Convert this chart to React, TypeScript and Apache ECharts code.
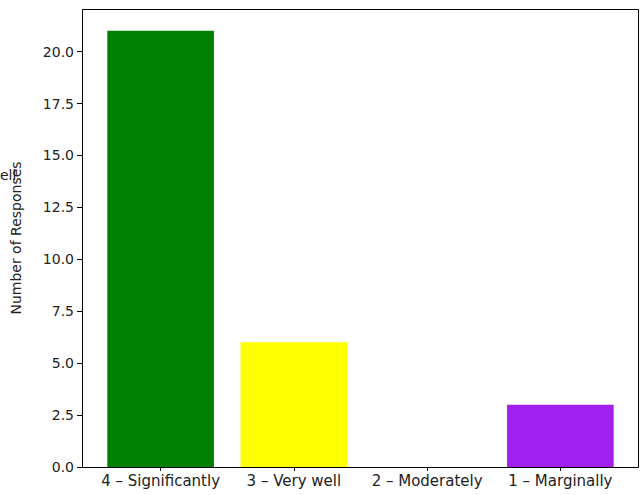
import React, { useEffect, useRef } from "react";
import * as echarts from "echarts";

const categories = ["4 – Significantly", "3 – Very well", "2 – Moderately", "1 – Marginally"];
const values = [21, 6, 0, 3];
const colors = ["#008000", "#ffff00", "#7f7f7f", "#a020f0"];
const yTicks = [0, 2.5, 5, 7.5, 10, 12.5, 15, 17.5, 20];

export default function App() {
  const ref = useRef<HTMLDivElement>(null);
  useEffect(() => {
    const chart = echarts.init(ref.current!, null, { renderer: "svg" });
    const font = "DejaVu Sans";
    chart.setOption({
      animation: false,
      backgroundColor: "#ffffff",
      grid: { left: 94, right: 14, top: 9, bottom: 28, containLabel: false },
      xAxis: {
        type: "category",
        data: categories,
        axisLine: { show: false },
        axisTick: { show: true, alignWithLabel: true, length: 4, lineStyle: { color: "#000" } },
        axisLabel: { color: "#222", fontFamily: font, fontSize: 15, margin: 6, interval: 0 },
      },
      yAxis: {
        type: "value",
        min: 0,
        max: 22.05,
        interval: 2.5,
        offset: 12,
        name: "Number of Responses",
        nameLocation: "middle",
        nameGap: 59,
        nameTextStyle: { color: "#222", fontFamily: font, fontSize: 14 },
        splitLine: { show: false },
        axisLine: { show: false },
        axisTick: { show: true, length: 5, lineStyle: { color: "#000" } },
        axisLabel: {
          color: "#222",
          fontFamily: font,
          fontSize: 14,
          margin: 8,
          showMaxLabel: false,
          formatter: (v: number) => (yTicks.includes(v) ? v.toFixed(1) : ""),
        },
      },
      series: [
        {
          type: "bar",
          barWidth: "80%",
          data: values.map((v, i) => ({ value: v, itemStyle: { color: colors[i] } })),
        },
      ],
      graphic: [
        {
          type: "rect",
          shape: { x: 82.5, y: 9.5, width: 556, height: 458 },
          style: { fill: "none", stroke: "#000", lineWidth: 1 },
          z: 100,
        },
        {
          type: "text",
          x: 0,
          y: 168,
          style: { text: "ell", align: "left", fill: "#222", font: "14px DejaVu Sans" },
        },
      ],
    });
    return () => chart.dispose();
  }, []);
  return <div ref={ref} style={{ width: 641, height: 495, position: "absolute", left: 0, top: 0 }} />;
}
